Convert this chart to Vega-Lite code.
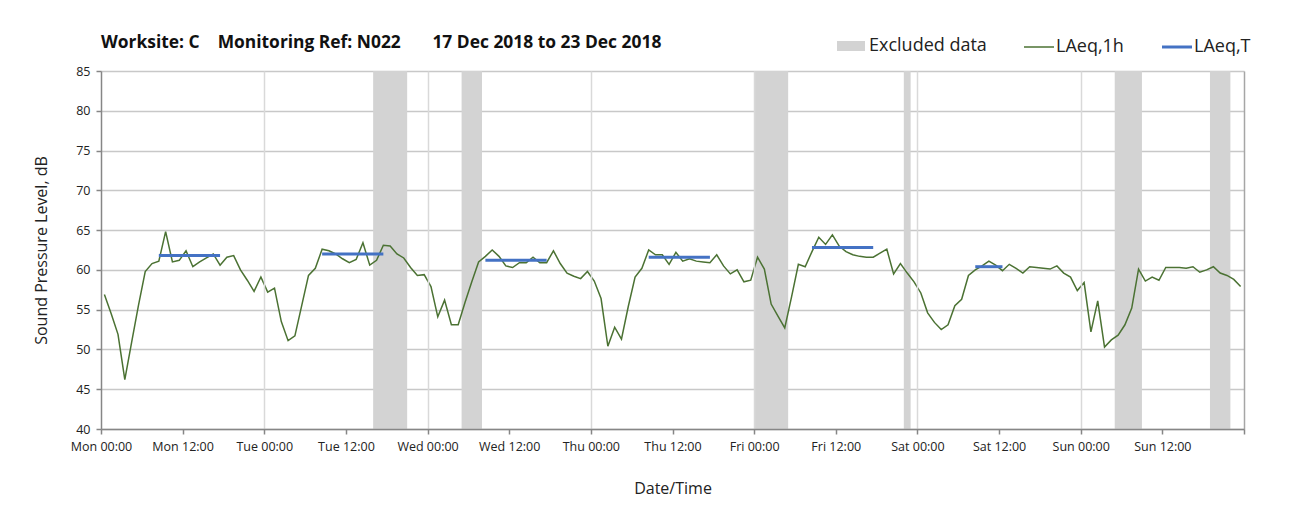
{
  "$schema": "https://vega.github.io/schema/vega-lite/v6.json",
  "width": 1143,
  "height": 358,
  "autosize": "none",
  "padding": {"left": 101, "top": 71, "right": 63, "bottom": 99},
  "background": "white",
  "title": {
    "text": "Worksite: C\u00a0\u00a0\u00a0 Monitoring Ref: N022\u00a0\u00a0\u00a0\u00a0\u00a0\u00a0 17 Dec 2018 to 23 Dec 2018",
    "anchor": "start",
    "frame": "group",
    "font": "Open Sans",
    "fontSize": 17.4,
    "fontWeight": "bold",
    "color": "#111111",
    "offset": 14,
    "dy": 33
  },
  "datasets": {
    "excluded": [
      {"from": "2018-12-18T16:00", "to": "2018-12-18T21:00"},
      {"from": "2018-12-19T05:00", "to": "2018-12-19T08:00"},
      {"from": "2018-12-21T00:00", "to": "2018-12-21T05:00"},
      {"from": "2018-12-21T22:00", "to": "2018-12-21T23:00"},
      {"from": "2018-12-23T05:00", "to": "2018-12-23T09:00"},
      {"from": "2018-12-23T19:00", "to": "2018-12-23T22:00"}
    ],
    "hourly": [
      {"time": "2018-12-17T00:30", "laeq_1h": 56.9},
      {"time": "2018-12-17T01:30", "laeq_1h": 54.5},
      {"time": "2018-12-17T02:30", "laeq_1h": 51.9},
      {"time": "2018-12-17T03:30", "laeq_1h": 46.2},
      {"time": "2018-12-17T04:30", "laeq_1h": 50.9},
      {"time": "2018-12-17T05:30", "laeq_1h": 55.5},
      {"time": "2018-12-17T06:30", "laeq_1h": 59.8},
      {"time": "2018-12-17T07:30", "laeq_1h": 60.8},
      {"time": "2018-12-17T08:30", "laeq_1h": 61.1},
      {"time": "2018-12-17T09:30", "laeq_1h": 64.8},
      {"time": "2018-12-17T10:30", "laeq_1h": 61.0},
      {"time": "2018-12-17T11:30", "laeq_1h": 61.2},
      {"time": "2018-12-17T12:30", "laeq_1h": 62.4},
      {"time": "2018-12-17T13:30", "laeq_1h": 60.4},
      {"time": "2018-12-17T14:30", "laeq_1h": 61.0},
      {"time": "2018-12-17T15:30", "laeq_1h": 61.5},
      {"time": "2018-12-17T16:30", "laeq_1h": 62.0},
      {"time": "2018-12-17T17:30", "laeq_1h": 60.6},
      {"time": "2018-12-17T18:30", "laeq_1h": 61.6},
      {"time": "2018-12-17T19:30", "laeq_1h": 61.8},
      {"time": "2018-12-17T20:30", "laeq_1h": 60.0},
      {"time": "2018-12-17T21:30", "laeq_1h": 58.7},
      {"time": "2018-12-17T22:30", "laeq_1h": 57.3},
      {"time": "2018-12-17T23:30", "laeq_1h": 59.1},
      {"time": "2018-12-18T00:30", "laeq_1h": 57.2},
      {"time": "2018-12-18T01:30", "laeq_1h": 57.7},
      {"time": "2018-12-18T02:30", "laeq_1h": 53.5},
      {"time": "2018-12-18T03:30", "laeq_1h": 51.1},
      {"time": "2018-12-18T04:30", "laeq_1h": 51.7},
      {"time": "2018-12-18T05:30", "laeq_1h": 55.5},
      {"time": "2018-12-18T06:30", "laeq_1h": 59.3},
      {"time": "2018-12-18T07:30", "laeq_1h": 60.2},
      {"time": "2018-12-18T08:30", "laeq_1h": 62.6},
      {"time": "2018-12-18T09:30", "laeq_1h": 62.4},
      {"time": "2018-12-18T10:30", "laeq_1h": 62.0},
      {"time": "2018-12-18T11:30", "laeq_1h": 61.4},
      {"time": "2018-12-18T12:30", "laeq_1h": 60.9},
      {"time": "2018-12-18T13:30", "laeq_1h": 61.3},
      {"time": "2018-12-18T14:30", "laeq_1h": 63.4},
      {"time": "2018-12-18T15:30", "laeq_1h": 60.6},
      {"time": "2018-12-18T16:30", "laeq_1h": 61.2},
      {"time": "2018-12-18T17:30", "laeq_1h": 63.1},
      {"time": "2018-12-18T18:30", "laeq_1h": 63.0},
      {"time": "2018-12-18T19:30", "laeq_1h": 62.0},
      {"time": "2018-12-18T20:30", "laeq_1h": 61.5},
      {"time": "2018-12-18T21:30", "laeq_1h": 60.3},
      {"time": "2018-12-18T22:30", "laeq_1h": 59.3},
      {"time": "2018-12-18T23:30", "laeq_1h": 59.4},
      {"time": "2018-12-19T00:30", "laeq_1h": 57.9},
      {"time": "2018-12-19T01:30", "laeq_1h": 54.1},
      {"time": "2018-12-19T02:30", "laeq_1h": 56.2},
      {"time": "2018-12-19T03:30", "laeq_1h": 53.1},
      {"time": "2018-12-19T04:30", "laeq_1h": 53.1},
      {"time": "2018-12-19T05:30", "laeq_1h": 55.9},
      {"time": "2018-12-19T06:30", "laeq_1h": 58.5},
      {"time": "2018-12-19T07:30", "laeq_1h": 61.0},
      {"time": "2018-12-19T08:30", "laeq_1h": 61.7},
      {"time": "2018-12-19T09:30", "laeq_1h": 62.5},
      {"time": "2018-12-19T10:30", "laeq_1h": 61.7},
      {"time": "2018-12-19T11:30", "laeq_1h": 60.5},
      {"time": "2018-12-19T12:30", "laeq_1h": 60.3},
      {"time": "2018-12-19T13:30", "laeq_1h": 60.9},
      {"time": "2018-12-19T14:30", "laeq_1h": 60.9},
      {"time": "2018-12-19T15:30", "laeq_1h": 61.6},
      {"time": "2018-12-19T16:30", "laeq_1h": 60.9},
      {"time": "2018-12-19T17:30", "laeq_1h": 60.9},
      {"time": "2018-12-19T18:30", "laeq_1h": 62.4},
      {"time": "2018-12-19T19:30", "laeq_1h": 60.8},
      {"time": "2018-12-19T20:30", "laeq_1h": 59.6},
      {"time": "2018-12-19T21:30", "laeq_1h": 59.2},
      {"time": "2018-12-19T22:30", "laeq_1h": 58.9},
      {"time": "2018-12-19T23:30", "laeq_1h": 59.8},
      {"time": "2018-12-20T00:30", "laeq_1h": 58.6},
      {"time": "2018-12-20T01:30", "laeq_1h": 56.4},
      {"time": "2018-12-20T02:30", "laeq_1h": 50.4},
      {"time": "2018-12-20T03:30", "laeq_1h": 52.8},
      {"time": "2018-12-20T04:30", "laeq_1h": 51.3},
      {"time": "2018-12-20T05:30", "laeq_1h": 55.4},
      {"time": "2018-12-20T06:30", "laeq_1h": 59.1},
      {"time": "2018-12-20T07:30", "laeq_1h": 60.2},
      {"time": "2018-12-20T08:30", "laeq_1h": 62.5},
      {"time": "2018-12-20T09:30", "laeq_1h": 61.9},
      {"time": "2018-12-20T10:30", "laeq_1h": 61.9},
      {"time": "2018-12-20T11:30", "laeq_1h": 60.7},
      {"time": "2018-12-20T12:30", "laeq_1h": 62.2},
      {"time": "2018-12-20T13:30", "laeq_1h": 61.1},
      {"time": "2018-12-20T14:30", "laeq_1h": 61.4},
      {"time": "2018-12-20T15:30", "laeq_1h": 61.1},
      {"time": "2018-12-20T16:30", "laeq_1h": 61.0},
      {"time": "2018-12-20T17:30", "laeq_1h": 60.9},
      {"time": "2018-12-20T18:30", "laeq_1h": 61.9},
      {"time": "2018-12-20T19:30", "laeq_1h": 60.5},
      {"time": "2018-12-20T20:30", "laeq_1h": 59.5},
      {"time": "2018-12-20T21:30", "laeq_1h": 60.0},
      {"time": "2018-12-20T22:30", "laeq_1h": 58.5},
      {"time": "2018-12-20T23:30", "laeq_1h": 58.7},
      {"time": "2018-12-21T00:30", "laeq_1h": 61.6},
      {"time": "2018-12-21T01:30", "laeq_1h": 60.1},
      {"time": "2018-12-21T02:30", "laeq_1h": 55.7},
      {"time": "2018-12-21T03:30", "laeq_1h": 54.2},
      {"time": "2018-12-21T04:30", "laeq_1h": 52.7},
      {"time": "2018-12-21T05:30", "laeq_1h": 56.6},
      {"time": "2018-12-21T06:30", "laeq_1h": 60.7},
      {"time": "2018-12-21T07:30", "laeq_1h": 60.4},
      {"time": "2018-12-21T08:30", "laeq_1h": 62.3},
      {"time": "2018-12-21T09:30", "laeq_1h": 64.1},
      {"time": "2018-12-21T10:30", "laeq_1h": 63.2},
      {"time": "2018-12-21T11:30", "laeq_1h": 64.4},
      {"time": "2018-12-21T12:30", "laeq_1h": 63.0},
      {"time": "2018-12-21T13:30", "laeq_1h": 62.3},
      {"time": "2018-12-21T14:30", "laeq_1h": 61.9},
      {"time": "2018-12-21T15:30", "laeq_1h": 61.7},
      {"time": "2018-12-21T16:30", "laeq_1h": 61.6},
      {"time": "2018-12-21T17:30", "laeq_1h": 61.6},
      {"time": "2018-12-21T18:30", "laeq_1h": 62.1},
      {"time": "2018-12-21T19:30", "laeq_1h": 62.6},
      {"time": "2018-12-21T20:30", "laeq_1h": 59.5},
      {"time": "2018-12-21T21:30", "laeq_1h": 60.8},
      {"time": "2018-12-21T22:30", "laeq_1h": 59.6},
      {"time": "2018-12-21T23:30", "laeq_1h": 58.5},
      {"time": "2018-12-22T00:30", "laeq_1h": 57.1},
      {"time": "2018-12-22T01:30", "laeq_1h": 54.6},
      {"time": "2018-12-22T02:30", "laeq_1h": 53.4},
      {"time": "2018-12-22T03:30", "laeq_1h": 52.5},
      {"time": "2018-12-22T04:30", "laeq_1h": 53.1},
      {"time": "2018-12-22T05:30", "laeq_1h": 55.5},
      {"time": "2018-12-22T06:30", "laeq_1h": 56.3},
      {"time": "2018-12-22T07:30", "laeq_1h": 59.3},
      {"time": "2018-12-22T08:30", "laeq_1h": 60.0},
      {"time": "2018-12-22T09:30", "laeq_1h": 60.5},
      {"time": "2018-12-22T10:30", "laeq_1h": 61.1},
      {"time": "2018-12-22T11:30", "laeq_1h": 60.6},
      {"time": "2018-12-22T12:30", "laeq_1h": 59.9},
      {"time": "2018-12-22T13:30", "laeq_1h": 60.7},
      {"time": "2018-12-22T14:30", "laeq_1h": 60.2},
      {"time": "2018-12-22T15:30", "laeq_1h": 59.6},
      {"time": "2018-12-22T16:30", "laeq_1h": 60.4},
      {"time": "2018-12-22T17:30", "laeq_1h": 60.3},
      {"time": "2018-12-22T18:30", "laeq_1h": 60.2},
      {"time": "2018-12-22T19:30", "laeq_1h": 60.1},
      {"time": "2018-12-22T20:30", "laeq_1h": 60.5},
      {"time": "2018-12-22T21:30", "laeq_1h": 59.6},
      {"time": "2018-12-22T22:30", "laeq_1h": 59.1},
      {"time": "2018-12-22T23:30", "laeq_1h": 57.4},
      {"time": "2018-12-23T00:30", "laeq_1h": 58.4},
      {"time": "2018-12-23T01:30", "laeq_1h": 52.2},
      {"time": "2018-12-23T02:30", "laeq_1h": 56.1},
      {"time": "2018-12-23T03:30", "laeq_1h": 50.3},
      {"time": "2018-12-23T04:30", "laeq_1h": 51.2},
      {"time": "2018-12-23T05:30", "laeq_1h": 51.8},
      {"time": "2018-12-23T06:30", "laeq_1h": 53.1},
      {"time": "2018-12-23T07:30", "laeq_1h": 55.2},
      {"time": "2018-12-23T08:30", "laeq_1h": 60.1},
      {"time": "2018-12-23T09:30", "laeq_1h": 58.6},
      {"time": "2018-12-23T10:30", "laeq_1h": 59.1},
      {"time": "2018-12-23T11:30", "laeq_1h": 58.7},
      {"time": "2018-12-23T12:30", "laeq_1h": 60.3},
      {"time": "2018-12-23T13:30", "laeq_1h": 60.3},
      {"time": "2018-12-23T14:30", "laeq_1h": 60.3},
      {"time": "2018-12-23T15:30", "laeq_1h": 60.2},
      {"time": "2018-12-23T16:30", "laeq_1h": 60.4},
      {"time": "2018-12-23T17:30", "laeq_1h": 59.7},
      {"time": "2018-12-23T18:30", "laeq_1h": 60.0},
      {"time": "2018-12-23T19:30", "laeq_1h": 60.4},
      {"time": "2018-12-23T20:30", "laeq_1h": 59.6},
      {"time": "2018-12-23T21:30", "laeq_1h": 59.3},
      {"time": "2018-12-23T22:30", "laeq_1h": 58.8},
      {"time": "2018-12-23T23:30", "laeq_1h": 57.9}
    ],
    "periods": [
      {"from": "2018-12-17T08:30", "to": "2018-12-17T17:30", "laeq_t": 61.8},
      {"from": "2018-12-18T08:30", "to": "2018-12-18T17:30", "laeq_t": 62.0},
      {"from": "2018-12-19T08:30", "to": "2018-12-19T17:30", "laeq_t": 61.2},
      {"from": "2018-12-20T08:30", "to": "2018-12-20T17:30", "laeq_t": 61.6},
      {"from": "2018-12-21T08:30", "to": "2018-12-21T17:30", "laeq_t": 62.8},
      {"from": "2018-12-22T08:30", "to": "2018-12-22T12:30", "laeq_t": 60.4}
    ]
  },
  "config": {
    "font": "Open Sans",
    "view": {"stroke": null},
    "axis": {
      "labelFont": "Open Sans",
      "labelFontSize": 12.5,
      "labelColor": "#222222",
      "titleFont": "Open Sans",
      "titleFontSize": 16,
      "titleFontWeight": "normal",
      "titleColor": "#222222",
      "domainColor": "#868686",
      "domainWidth": 1.5,
      "tickColor": "#868686",
      "tickWidth": 1.5,
      "tickSize": 5,
      "gridWidth": 1.5
    },
    "legend": {
      "labelFont": "Open Sans",
      "labelFontSize": 18,
      "labelColor": "#222222",
      "padding": 0
    }
  },
  "layer": [
    {
      "data": {"name": "excluded"},
      "mark": {"type": "rect"},
      "encoding": {
        "x": {
          "field": "from",
          "type": "temporal",
          "scale": {"domain": [{"year": 2018, "month": 12, "date": 17}, {"year": 2018, "month": 12, "date": 24}], "nice": false}
        },
        "x2": {"field": "to"},
        "fill": {
          "datum": "Excluded data",
          "type": "nominal",
          "scale": {"domain": ["Excluded data"], "range": ["#d3d3d3"]},
          "legend": {
            "title": null,
            "orient": "none",
            "legendX": 736,
            "legendY": -39,
            "symbolType": "M-1,-0.357H1V0.357H-1Z",
            "symbolSize": 784,
            "symbolStrokeWidth": 0,
            "symbolOpacity": 1,
            "labelOffset": 4
          }
        }
      }
    },
    {
      "data": {"name": "hourly"},
      "mark": {"type": "line", "strokeWidth": 1.5, "interpolate": "linear"},
      "encoding": {
        "x": {
          "field": "time",
          "type": "temporal",
          "scale": {"domain": [{"year": 2018, "month": 12, "date": 17}, {"year": 2018, "month": 12, "date": 24}], "nice": false},
          "axis": {
            "title": "Date/Time",
            "format": "%a %H:%M",
            "values": [
              {"year": 2018, "month": 12, "date": 17, "hours": 0},
              {"year": 2018, "month": 12, "date": 17, "hours": 12},
              {"year": 2018, "month": 12, "date": 18, "hours": 0},
              {"year": 2018, "month": 12, "date": 18, "hours": 12},
              {"year": 2018, "month": 12, "date": 19, "hours": 0},
              {"year": 2018, "month": 12, "date": 19, "hours": 12},
              {"year": 2018, "month": 12, "date": 20, "hours": 0},
              {"year": 2018, "month": 12, "date": 20, "hours": 12},
              {"year": 2018, "month": 12, "date": 21, "hours": 0},
              {"year": 2018, "month": 12, "date": 21, "hours": 12},
              {"year": 2018, "month": 12, "date": 22, "hours": 0},
              {"year": 2018, "month": 12, "date": 22, "hours": 12},
              {"year": 2018, "month": 12, "date": 23, "hours": 0},
              {"year": 2018, "month": 12, "date": 23, "hours": 12},
              {"year": 2018, "month": 12, "date": 24, "hours": 0}
            ],
            "labelFlush": false,
            "labelOverlap": false,
            "labelPadding": 6,
            "titlePadding": 28,
            "grid": true,
            "gridColor": {"condition": {"test": "date(datum.value) === 24", "value": "#a6a6a6"}, "value": "#d9d9d9"},
            "gridOpacity": {"condition": {"test": "hours(datum.value) === 0 && date(datum.value) !== 17", "value": 1}, "value": 0},
            "labelOpacity": {"condition": {"test": "date(datum.value) === 24", "value": 0}, "value": 1},
            "zindex": 1
          }
        },
        "y": {
          "field": "laeq_1h",
          "type": "quantitative",
          "scale": {"domain": [40, 85], "nice": false, "zero": false},
          "axis": {
            "title": "Sound Pressure Level, dB",
            "values": [40, 45, 50, 55, 60, 65, 70, 75, 80, 85],
            "tickCount": 10,
            "labelOverlap": false,
            "grid": true,
            "gridColor": "#c8c8c8",
            "labelPadding": 6,
            "titlePadding": 26
          }
        },
        "stroke": {
          "datum": "LAeq,1h",
          "type": "nominal",
          "scale": {"domain": ["LAeq,1h", "LAeq,T"], "range": ["#4b7233", "#4472c4"]},
          "legend": {
            "title": null,
            "orient": "none",
            "direction": "horizontal",
            "legendX": 929,
            "legendY": -33,
            "symbolType": "stroke",
            "symbolSize": 900,
            "labelOffset": 8,
            "columnPadding": 32,
            "encode": {
              "symbols": {
                "update": {
                  "strokeWidth": {"signal": "datum.value === 'LAeq,T' ? 3 : 1.5"}
                }
              }
            }
          }
        }
      }
    },
    {
      "data": {"name": "periods"},
      "mark": {"type": "rule", "strokeWidth": 3, "strokeCap": "butt"},
      "encoding": {
        "x": {
          "field": "from",
          "type": "temporal",
          "scale": {"domain": [{"year": 2018, "month": 12, "date": 17}, {"year": 2018, "month": 12, "date": 24}], "nice": false}
        },
        "x2": {"field": "to"},
        "y": {"field": "laeq_t", "type": "quantitative"},
        "stroke": {"datum": "LAeq,T", "type": "nominal"}
      }
    }
  ]
}
